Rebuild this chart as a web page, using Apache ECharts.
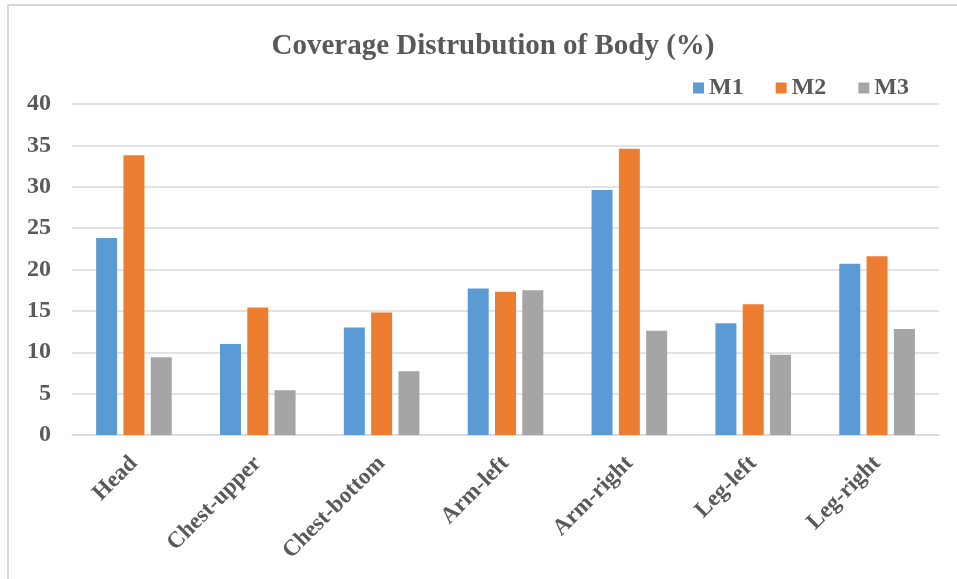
<!DOCTYPE html>
<html>
<head>
<meta charset="utf-8">
<script src="https://cdn.jsdelivr.net/npm/echarts@6/dist/echarts.min.js"></script>
<style>
html,body{margin:0;padding:0;background:#fff;}
#chart{width:957px;height:579px;}
</style>
</head>
<body>
<div id="chart"></div>
<script>
var categories = ['Head', 'Chest-upper', 'Chest-bottom', 'Arm-left', 'Arm-right', 'Leg-left', 'Leg-right'];
var m1 = [23.8, 11.0, 13.0, 17.7, 29.6, 13.5, 20.7];
var m2 = [33.8, 15.4, 14.8, 17.3, 34.6, 15.8, 21.6];
var m3 = [9.4, 5.4, 7.7, 17.5, 12.6, 9.7, 12.8];
var seriesNames = ['M1', 'M2', 'M3'];

var font = '"Liberation Serif", "Times New Roman", serif';
var textColor = '#595959';
var chart = echarts.init(document.getElementById('chart'), null, {renderer: 'canvas'});
function bar(name, data, color) {
  return {
    name: name, type: 'bar', data: data,
    barWidth: 21, barGap: '30%',
    itemStyle: {color: color},
    emphasis: {disabled: true}
  };
}
chart.setOption({
  animation: false,
  backgroundColor: '#fff',
  graphic: [{
    type: 'polyline',
    shape: {points: [[8, 600], [8, 5], [970, 5]]},
    style: {stroke: '#d9d9d9', lineWidth: 2, fill: null},
    silent: true
  }],
  title: {
    text: 'Coverage Distrubution of Body (%)',
    left: 488, top: 27, textAlign: 'center',
    textStyle: {fontFamily: font, fontSize: 29, fontWeight: 'bold', color: textColor}
  },
  legend: {
    data: seriesNames,
    right: 48, top: 76, padding: 0,
    itemWidth: 11, itemHeight: 11, itemGap: 32,
    icon: 'rect',
    textStyle: {fontFamily: font, fontSize: 24, fontWeight: 'bold', color: textColor}
  },
  grid: {left: 72, right: 18, top: 104, bottom: 144, containLabel: false, outerBoundsMode: 'none'},
  xAxis: {
    type: 'category', data: categories,
    axisLine: {lineStyle: {color: '#d9d9d9', width: 1.5}},
    axisTick: {show: false},
    axisLabel: {rotate: 45, interval: 0, margin: 25, fontFamily: font, fontSize: 23, fontWeight: 'bold', color: textColor}
  },
  yAxis: {
    type: 'value', min: 0, max: 40, interval: 5,
    axisLine: {show: false}, axisTick: {show: false},
    splitLine: {lineStyle: {color: '#d9d9d9', width: 1.5}},
    axisLabel: {margin: 21, fontFamily: font, fontSize: 24, fontWeight: 'bold', color: textColor}
  },
  series: [bar('M1', m1, '#5B9BD5'), bar('M2', m2, '#ED7D31'), bar('M3', m3, '#A5A5A5')]
});
</script>
</body>
</html>
